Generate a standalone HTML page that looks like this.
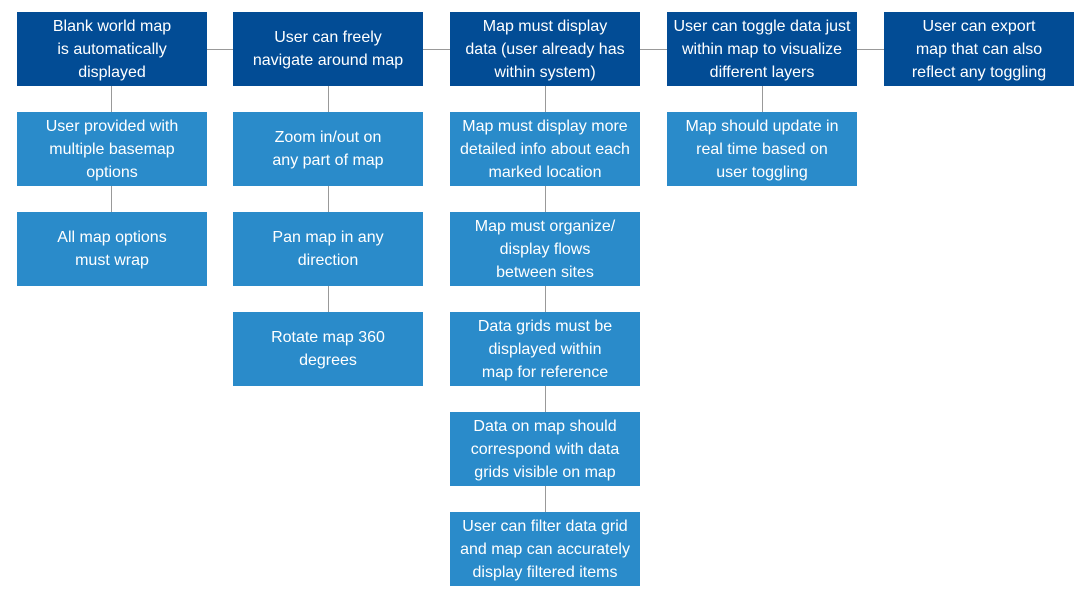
<!DOCTYPE html><html><head><style>
body{margin:0;width:1089px;height:596px;background:#fff;position:relative;font-family:"Liberation Sans",sans-serif;overflow:hidden}
.b{position:absolute;width:190px;height:74px;display:flex;align-items:center;justify-content:center;text-align:center;color:#fff;font-size:16px;line-height:23px;box-sizing:border-box;padding:0 4px}
.d{background:#024c95}.l{background:#2a8bca}
.h{position:absolute;height:1px;background:#999}.v{position:absolute;width:1px;background:#999}
</style></head><body>
<div class="h" style="left:207px;top:49px;width:677px"></div>
<div class="v" style="left:111px;top:86px;height:126px"></div>
<div class="v" style="left:328px;top:86px;height:226px"></div>
<div class="v" style="left:545px;top:86px;height:426px"></div>
<div class="v" style="left:762px;top:86px;height:26px"></div>
<div class="b d" style="left:17px;top:12px">Blank world map<br>is automatically<br>displayed</div>
<div class="b l" style="left:17px;top:112px">User provided with<br>multiple basemap<br>options</div>
<div class="b l" style="left:17px;top:212px">All map options<br>must wrap</div>
<div class="b d" style="left:233px;top:12px">User can freely<br>navigate around map</div>
<div class="b l" style="left:233px;top:112px">Zoom in/out on<br>any part of map</div>
<div class="b l" style="left:233px;top:212px">Pan map in any<br>direction</div>
<div class="b l" style="left:233px;top:312px">Rotate map 360<br>degrees</div>
<div class="b d" style="left:450px;top:12px">Map must display<br>data (user already has<br>within system)</div>
<div class="b l" style="left:450px;top:112px">Map must display more<br>detailed info about each<br>marked location</div>
<div class="b l" style="left:450px;top:212px">Map must organize/<br>display flows<br>between sites</div>
<div class="b l" style="left:450px;top:312px">Data grids must be<br>displayed within<br>map for reference</div>
<div class="b l" style="left:450px;top:412px">Data on map should<br>correspond with data<br>grids visible on map</div>
<div class="b l" style="left:450px;top:512px">User can filter data grid<br>and map can accurately<br>display filtered items</div>
<div class="b d" style="left:667px;top:12px">User can toggle data just<br>within map to visualize<br>different layers</div>
<div class="b l" style="left:667px;top:112px">Map should update in<br>real time based on<br>user toggling</div>
<div class="b d" style="left:884px;top:12px">User can export<br>map that can also<br>reflect any toggling</div>
</body></html>
